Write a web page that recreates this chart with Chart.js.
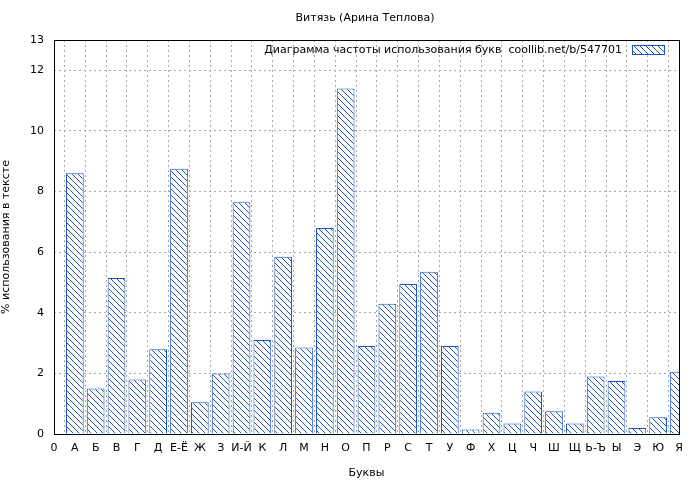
<!DOCTYPE html>
<html><head><meta charset="utf-8">
<script src="https://cdn.jsdelivr.net/npm/chart.js@4"></script>
<style>html,body{margin:0;background:#fff}#wrap{width:700px;height:480px}</style>
</head><body><div id="wrap"><canvas id="c"></canvas></div>
<script>
const letters = ["А","Б","В","Г","Д","Е-Ё","Ж","З","И-Й","К","Л","М","Н","О","П","Р","С","Т","У","Ф","Х","Ц","Ч","Ш","Щ","Ь-Ъ","Ы","Э","Ю","Я"];
const percents = [8.6,1.5,5.15,1.8,2.8,8.75,1.05,2.0,7.65,3.1,5.85,2.85,6.8,11.4,2.9,4.3,4.95,5.35,2.9,0.15,0.7,0.35,1.4,0.75,0.35,1.9,1.75,0.2,0.55,2.05];
const BLUE = "#1a55c8";

function hatch() {
    const t = document.createElement("canvas");
    t.width = 6; t.height = 6;
    const g = t.getContext("2d");
    g.fillStyle = "#fff"; g.fillRect(0, 0, 6, 6);
    g.strokeStyle = BLUE; g.lineWidth = 1;
    g.beginPath();
    g.moveTo(0, 0); g.lineTo(6, 6);
    g.moveTo(-3, 3); g.lineTo(3, 9);
    g.moveTo(3, -3); g.lineTo(9, 3);
    g.stroke();
    return g.createPattern(t, "repeat");
}
const pat = hatch();

const frame = {
    id: "frame",
    afterDraw(chart) {
        const { ctx, chartArea: a } = chart;
        ctx.save();
        ctx.strokeStyle = "#000"; ctx.lineWidth = 1;
        ctx.strokeRect(a.left + 0.5, a.top + 0.5, a.right - a.left, a.bottom - a.top);
        ctx.fillStyle = "#000";
        ctx.font = "11px 'DejaVu Sans'";
        ctx.textAlign = "center"; ctx.textBaseline = "middle";
        ctx.fillText("Витязь (Арина Теплова)", 365, 18);
        ctx.textAlign = "right";
        ctx.fillText("Диаграмма частоты использования букв  coollib.net/b/547701", 622, 50);
        ctx.fillStyle = pat; ctx.fillRect(632, 45, 32, 9);
        ctx.strokeStyle = BLUE; ctx.strokeRect(632.5, 45.5, 32, 9);
        ctx.restore();
    }
};

new Chart(document.getElementById("c"), {
    type: "bar",
    data: {
        datasets: [{
            data: percents.map((v, i) => ({ x: i + 1, y: v })),
            backgroundColor: pat, borderColor: BLUE, borderWidth: 1,
            barPercentage: 0.85, categoryPercentage: 1.0,
        }],
    },
    options: {
        responsive: true, maintainAspectRatio: false, animation: false,
        layout: { padding: { top: 40, right: 21, left: 0, bottom: 0 } },
        plugins: { legend: { display: false }, tooltip: { enabled: false } },
        scales: {
            x: {
                type: "linear", min: 0, max: 30, offset: false,
                afterFit(s) { s.height = 46; },
                grid: { color: "#aaa", drawTicks: false },
                border: { dash: [2, 3], display: false },
                ticks: {
                    stepSize: 1, autoSkip: false, maxRotation: 0, color: "#000", padding: 8,
                    font: { family: "DejaVu Sans", size: 11 },
                    callback: v => v === 0 ? "0" : letters[v - 1],
                },
                title: { display: true, text: "Буквы", color: "#000", font: { family: "DejaVu Sans", size: 11 }, padding: 0 },
            },
            y: {
                min: 0, max: 13,
                afterFit(s) { s.width = 54; },
                grid: { color: "#aaa", drawTicks: false },
                border: { dash: [2, 3], display: false },
                ticks: { stepSize: 2, color: "#000", padding: 10, font: { family: "DejaVu Sans", size: 11 } },
                title: { display: true, text: "% использования в тексте", color: "#000", font: { family: "DejaVu Sans", size: 11 }, padding: 0 },
            },
        },
    },
    plugins: [frame],
});
</script></body></html>
